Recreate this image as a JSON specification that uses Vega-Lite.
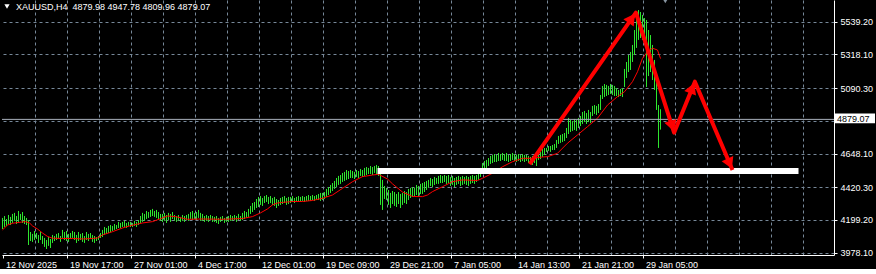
{
"$schema":"https://vega.github.io/schema/vega-lite/v6.json",
"width":832,"height":255,"padding":0,"background":"#000000",
"config":{"view":{"stroke":null},"font":"Liberation Sans",
"axis":{"grid":true,"gridColor":"#778899","gridDash":[3,3],"gridWidth":1,"domainColor":"#ffffff","domainWidth":1,"tickColor":"#ffffff","tickSize":3,"tickWidth":1,"labelColor":"#ffffff","labelFont":"Liberation Sans","labelFontSize":9,"labelOverlap":false,"labelFlush":false,"labelBound":false},
"axisX":{"labelAlign":"left","labelBaseline":"top","labelPadding":2,"labelOffset":3},
"axisY":{"labelAlign":"left","labelBaseline":"middle","labelPadding":3}},
"resolve":{"axis":{"x":"shared","y":"shared"},"scale":{"x":"shared","y":"shared"}},
"datasets":{
"bars":[{"i":0,"h":4213,"l":4138},{"i":1,"h":4226,"l":4152},{"i":2,"h":4206,"l":4159},{"i":3,"h":4233,"l":4172},{"i":4,"h":4220,"l":4165},{"i":5,"h":4240,"l":4179},{"i":6,"h":4247,"l":4193},{"i":7,"h":4226,"l":4172},{"i":8,"h":4260,"l":4186},{"i":9,"h":4240,"l":4199},{"i":10,"h":4253,"l":4179},{"i":11,"h":4226,"l":4172},{"i":12,"h":4213,"l":4165},{"i":13,"h":4199,"l":4030},{"i":14,"h":4118,"l":4057},{"i":15,"h":4105,"l":4051},{"i":16,"h":4125,"l":4064},{"i":17,"h":4111,"l":4071},{"i":18,"h":4098,"l":4044},{"i":19,"h":4118,"l":4064},{"i":20,"h":4091,"l":4037},{"i":21,"h":4078,"l":4017},{"i":22,"h":4064,"l":4003},{"i":23,"h":4084,"l":4024},{"i":24,"h":4071,"l":4010},{"i":25,"h":4098,"l":4044},{"i":26,"h":4091,"l":4057},{"i":27,"h":4105,"l":4064},{"i":28,"h":4111,"l":4071},{"i":29,"h":4091,"l":4051},{"i":30,"h":4132,"l":4078},{"i":31,"h":4118,"l":4064},{"i":32,"h":4125,"l":4057},{"i":33,"h":4105,"l":4051},{"i":34,"h":4111,"l":4071},{"i":35,"h":4125,"l":4078},{"i":36,"h":4118,"l":4064},{"i":37,"h":4098,"l":4044},{"i":38,"h":4118,"l":4057},{"i":39,"h":4105,"l":4064},{"i":40,"h":4111,"l":4051},{"i":41,"h":4091,"l":4044},{"i":42,"h":4118,"l":4064},{"i":43,"h":4105,"l":4057},{"i":44,"h":4111,"l":4071},{"i":45,"h":4098,"l":4051},{"i":46,"h":4091,"l":4044},{"i":47,"h":4084,"l":4057},{"i":48,"h":4091,"l":4064},{"i":49,"h":4111,"l":4078},{"i":50,"h":4132,"l":4084},{"i":51,"h":4152,"l":4098},{"i":52,"h":4145,"l":4105},{"i":53,"h":4159,"l":4111},{"i":54,"h":4165,"l":4118},{"i":55,"h":4159,"l":4125},{"i":56,"h":4172,"l":4132},{"i":57,"h":4165,"l":4138},{"i":58,"h":4186,"l":4145},{"i":59,"h":4179,"l":4145},{"i":60,"h":4186,"l":4152},{"i":61,"h":4193,"l":4152},{"i":62,"h":4179,"l":4145},{"i":63,"h":4186,"l":4159},{"i":64,"h":4186,"l":4152},{"i":65,"h":4179,"l":4152},{"i":66,"h":4193,"l":4159},{"i":67,"h":4186,"l":4152},{"i":68,"h":4199,"l":4165},{"i":69,"h":4226,"l":4179},{"i":70,"h":4247,"l":4186},{"i":71,"h":4240,"l":4193},{"i":72,"h":4260,"l":4206},{"i":73,"h":4253,"l":4213},{"i":74,"h":4267,"l":4220},{"i":75,"h":4274,"l":4226},{"i":76,"h":4260,"l":4220},{"i":77,"h":4267,"l":4213},{"i":78,"h":4253,"l":4206},{"i":79,"h":4240,"l":4193},{"i":80,"h":4240,"l":4186},{"i":81,"h":4247,"l":4193},{"i":82,"h":4233,"l":4179},{"i":83,"h":4247,"l":4199},{"i":84,"h":4240,"l":4186},{"i":85,"h":4253,"l":4206},{"i":86,"h":4233,"l":4193},{"i":87,"h":4226,"l":4186},{"i":88,"h":4233,"l":4193},{"i":89,"h":4220,"l":4186},{"i":90,"h":4233,"l":4193},{"i":91,"h":4226,"l":4186},{"i":92,"h":4233,"l":4199},{"i":93,"h":4240,"l":4193},{"i":94,"h":4253,"l":4206},{"i":95,"h":4260,"l":4199},{"i":96,"h":4247,"l":4206},{"i":97,"h":4253,"l":4199},{"i":98,"h":4267,"l":4213},{"i":99,"h":4247,"l":4193},{"i":100,"h":4240,"l":4193},{"i":101,"h":4226,"l":4186},{"i":102,"h":4233,"l":4193},{"i":103,"h":4226,"l":4186},{"i":104,"h":4233,"l":4199},{"i":105,"h":4226,"l":4186},{"i":106,"h":4220,"l":4186},{"i":107,"h":4226,"l":4179},{"i":108,"h":4213,"l":4172},{"i":109,"h":4220,"l":4186},{"i":110,"h":4226,"l":4193},{"i":111,"h":4213,"l":4179},{"i":112,"h":4220,"l":4186},{"i":113,"h":4226,"l":4186},{"i":114,"h":4233,"l":4193},{"i":115,"h":4226,"l":4193},{"i":116,"h":4233,"l":4199},{"i":117,"h":4226,"l":4186},{"i":118,"h":4240,"l":4199},{"i":119,"h":4226,"l":4193},{"i":120,"h":4247,"l":4199},{"i":121,"h":4260,"l":4206},{"i":122,"h":4253,"l":4213},{"i":123,"h":4274,"l":4220},{"i":124,"h":4294,"l":4240},{"i":125,"h":4314,"l":4253},{"i":126,"h":4321,"l":4267},{"i":127,"h":4341,"l":4280},{"i":128,"h":4355,"l":4287},{"i":129,"h":4361,"l":4301},{"i":130,"h":4348,"l":4294},{"i":131,"h":4361,"l":4314},{"i":132,"h":4368,"l":4321},{"i":133,"h":4355,"l":4307},{"i":134,"h":4361,"l":4314},{"i":135,"h":4348,"l":4301},{"i":136,"h":4355,"l":4294},{"i":137,"h":4341,"l":4280},{"i":138,"h":4334,"l":4294},{"i":139,"h":4348,"l":4301},{"i":140,"h":4355,"l":4307},{"i":141,"h":4361,"l":4314},{"i":142,"h":4348,"l":4301},{"i":143,"h":4355,"l":4307},{"i":144,"h":4355,"l":4314},{"i":145,"h":4361,"l":4321},{"i":146,"h":4348,"l":4314},{"i":147,"h":4355,"l":4321},{"i":148,"h":4361,"l":4321},{"i":149,"h":4355,"l":4321},{"i":150,"h":4361,"l":4328},{"i":151,"h":4355,"l":4321},{"i":152,"h":4361,"l":4328},{"i":153,"h":4368,"l":4328},{"i":154,"h":4361,"l":4328},{"i":155,"h":4368,"l":4334},{"i":156,"h":4361,"l":4328},{"i":157,"h":4368,"l":4334},{"i":158,"h":4375,"l":4334},{"i":159,"h":4382,"l":4328},{"i":160,"h":4382,"l":4334},{"i":161,"h":4388,"l":4341},{"i":162,"h":4409,"l":4355},{"i":163,"h":4422,"l":4368},{"i":164,"h":4436,"l":4382},{"i":165,"h":4449,"l":4395},{"i":166,"h":4463,"l":4409},{"i":167,"h":4483,"l":4422},{"i":168,"h":4497,"l":4436},{"i":169,"h":4503,"l":4443},{"i":170,"h":4517,"l":4456},{"i":171,"h":4524,"l":4463},{"i":172,"h":4537,"l":4470},{"i":173,"h":4530,"l":4476},{"i":174,"h":4537,"l":4483},{"i":175,"h":4530,"l":4483},{"i":176,"h":4524,"l":4476},{"i":177,"h":4537,"l":4490},{"i":178,"h":4530,"l":4483},{"i":179,"h":4544,"l":4497},{"i":180,"h":4537,"l":4490},{"i":181,"h":4551,"l":4497},{"i":182,"h":4557,"l":4503},{"i":183,"h":4551,"l":4510},{"i":184,"h":4564,"l":4510},{"i":185,"h":4557,"l":4503},{"i":186,"h":4564,"l":4517},{"i":187,"h":4571,"l":4510},{"i":188,"h":4564,"l":4497},{"i":189,"h":4510,"l":4301},{"i":190,"h":4470,"l":4267},{"i":191,"h":4429,"l":4341},{"i":192,"h":4416,"l":4334},{"i":193,"h":4402,"l":4301},{"i":194,"h":4382,"l":4280},{"i":195,"h":4395,"l":4307},{"i":196,"h":4388,"l":4294},{"i":197,"h":4375,"l":4287},{"i":198,"h":4388,"l":4307},{"i":199,"h":4375,"l":4280},{"i":200,"h":4382,"l":4301},{"i":201,"h":4395,"l":4314},{"i":202,"h":4388,"l":4307},{"i":203,"h":4409,"l":4334},{"i":204,"h":4416,"l":4348},{"i":205,"h":4422,"l":4355},{"i":206,"h":4416,"l":4361},{"i":207,"h":4436,"l":4368},{"i":208,"h":4429,"l":4361},{"i":209,"h":4443,"l":4375},{"i":210,"h":4449,"l":4375},{"i":211,"h":4456,"l":4388},{"i":212,"h":4463,"l":4402},{"i":213,"h":4470,"l":4416},{"i":214,"h":4483,"l":4429},{"i":215,"h":4476,"l":4422},{"i":216,"h":4490,"l":4436},{"i":217,"h":4483,"l":4443},{"i":218,"h":4497,"l":4443},{"i":219,"h":4503,"l":4449},{"i":220,"h":4497,"l":4449},{"i":221,"h":4503,"l":4456},{"i":222,"h":4497,"l":4443},{"i":223,"h":4503,"l":4449},{"i":224,"h":4490,"l":4429},{"i":225,"h":4497,"l":4436},{"i":226,"h":4483,"l":4422},{"i":227,"h":4490,"l":4436},{"i":228,"h":4497,"l":4443},{"i":229,"h":4490,"l":4429},{"i":230,"h":4497,"l":4436},{"i":231,"h":4490,"l":4443},{"i":232,"h":4497,"l":4436},{"i":233,"h":4490,"l":4429},{"i":234,"h":4497,"l":4443},{"i":235,"h":4503,"l":4449},{"i":236,"h":4497,"l":4443},{"i":237,"h":4503,"l":4456},{"i":238,"h":4524,"l":4470},{"i":239,"h":4551,"l":4490},{"i":240,"h":4584,"l":4530},{"i":241,"h":4598,"l":4537},{"i":242,"h":4605,"l":4551},{"i":243,"h":4618,"l":4564},{"i":244,"h":4632,"l":4578},{"i":245,"h":4639,"l":4584},{"i":246,"h":4645,"l":4591},{"i":247,"h":4639,"l":4591},{"i":248,"h":4652,"l":4598},{"i":249,"h":4645,"l":4598},{"i":250,"h":4652,"l":4605},{"i":251,"h":4645,"l":4598},{"i":252,"h":4652,"l":4598},{"i":253,"h":4639,"l":4591},{"i":254,"h":4645,"l":4598},{"i":255,"h":4652,"l":4605},{"i":256,"h":4645,"l":4598},{"i":257,"h":4639,"l":4591},{"i":258,"h":4645,"l":4598},{"i":259,"h":4639,"l":4591},{"i":260,"h":4645,"l":4598},{"i":261,"h":4639,"l":4591},{"i":262,"h":4639,"l":4598},{"i":263,"h":4632,"l":4584},{"i":264,"h":4625,"l":4578},{"i":265,"h":4632,"l":4571},{"i":266,"h":4639,"l":4584},{"i":267,"h":4625,"l":4564},{"i":268,"h":4652,"l":4605},{"i":269,"h":4659,"l":4611},{"i":270,"h":4679,"l":4625},{"i":271,"h":4686,"l":4639},{"i":272,"h":4686,"l":4659},{"i":273,"h":4699,"l":4666},{"i":274,"h":4699,"l":4659},{"i":275,"h":4706,"l":4672},{"i":276,"h":4713,"l":4672},{"i":277,"h":4740,"l":4686},{"i":278,"h":4767,"l":4713},{"i":279,"h":4774,"l":4720},{"i":280,"h":4780,"l":4726},{"i":281,"h":4787,"l":4733},{"i":282,"h":4821,"l":4753},{"i":283,"h":4889,"l":4780},{"i":284,"h":4875,"l":4794},{"i":285,"h":4868,"l":4801},{"i":286,"h":4882,"l":4807},{"i":287,"h":4875,"l":4801},{"i":288,"h":4889,"l":4821},{"i":289,"h":4902,"l":4834},{"i":290,"h":4929,"l":4848},{"i":291,"h":4936,"l":4861},{"i":292,"h":4922,"l":4848},{"i":293,"h":4943,"l":4861},{"i":294,"h":4929,"l":4855},{"i":295,"h":4970,"l":4902},{"i":296,"h":4976,"l":4916},{"i":297,"h":4970,"l":4909},{"i":298,"h":4983,"l":4922},{"i":299,"h":5044,"l":4943},{"i":300,"h":5105,"l":5017},{"i":301,"h":5118,"l":5030},{"i":302,"h":5112,"l":5037},{"i":303,"h":5105,"l":5044},{"i":304,"h":5118,"l":5051},{"i":305,"h":5112,"l":5044},{"i":306,"h":5105,"l":5037},{"i":307,"h":5091,"l":5037},{"i":308,"h":5078,"l":5030},{"i":309,"h":5085,"l":5037},{"i":310,"h":5091,"l":5030},{"i":311,"h":5220,"l":5098},{"i":312,"h":5267,"l":5159},{"i":313,"h":5314,"l":5199},{"i":314,"h":5335,"l":5213},{"i":315,"h":5382,"l":5267},{"i":316,"h":5483,"l":5314},{"i":317,"h":5605,"l":5362},{"i":318,"h":5618,"l":5416},{"i":319,"h":5605,"l":5429},{"i":320,"h":5585,"l":5416},{"i":321,"h":5564,"l":5402},{"i":322,"h":5551,"l":5098},{"i":323,"h":5483,"l":5172},{"i":324,"h":5449,"l":5199},{"i":325,"h":5382,"l":5145},{"i":326,"h":5281,"l":5078},{"i":327,"h":5145,"l":4943},{"i":328,"h":4976,"l":4686},{"i":329,"h":4947.78,"l":4809.96}],
"ma":[{"i":0,"m":4132},{"i":2.5,"m":4165},{"i":5,"m":4177},{"i":10,"m":4186},{"i":11.5,"m":4188},{"i":13.5,"m":4179},{"i":15,"m":4159},{"i":17.5,"m":4138},{"i":20,"m":4111},{"i":22.5,"m":4088},{"i":25,"m":4076},{"i":30,"m":4074},{"i":35,"m":4074},{"i":40,"m":4071},{"i":45,"m":4074},{"i":47.5,"m":4078},{"i":50,"m":4098},{"i":55,"m":4120},{"i":60,"m":4145},{"i":63.5,"m":4159},{"i":70,"m":4179},{"i":75,"m":4188},{"i":80,"m":4213},{"i":82.5,"m":4226},{"i":86.5,"m":4222},{"i":92.5,"m":4204},{"i":100,"m":4206},{"i":110,"m":4204},{"i":120,"m":4209},{"i":125,"m":4222},{"i":129,"m":4247},{"i":132.5,"m":4274},{"i":135,"m":4301},{"i":137.5,"m":4314},{"i":140,"m":4318},{"i":145,"m":4324},{"i":150,"m":4324},{"i":155,"m":4331},{"i":160,"m":4346},{"i":165,"m":4368},{"i":170,"m":4413},{"i":175,"m":4458},{"i":180,"m":4492},{"i":185,"m":4503},{"i":188,"m":4508},{"i":192.5,"m":4476},{"i":195,"m":4443},{"i":200,"m":4388},{"i":205,"m":4358},{"i":210,"m":4357},{"i":212.5,"m":4368},{"i":215,"m":4391},{"i":220,"m":4424},{"i":225,"m":4458},{"i":230,"m":4470},{"i":237.5,"m":4466},{"i":240,"m":4481},{"i":245,"m":4515},{"i":250,"m":4559},{"i":255,"m":4593},{"i":260,"m":4616},{"i":265,"m":4616},{"i":270,"m":4625},{"i":272.5,"m":4627},{"i":277.5,"m":4650},{"i":282.5,"m":4718},{"i":287.5,"m":4774},{"i":292.5,"m":4830},{"i":297.5,"m":4887},{"i":302.5,"m":4976},{"i":307.5,"m":5033},{"i":311,"m":5066},{"i":315,"m":5134},{"i":317.5,"m":5201},{"i":320,"m":5292},{"i":322.5,"m":5337},{"i":325,"m":5360},{"i":327.5,"m":5348},{"i":329,"m":5290}],
"arrow":[{"k":0,"i":263.6,"p":4576},{"k":1,"i":316.7,"p":5600},{"k":2,"i":335.8,"p":4789},{"k":3,"i":346.2,"p":5134},{"k":4,"i":365,"p":4537}],
"heads":[{"i":314.6,"p":5562,"heading":35},{"i":334.8,"p":4834,"heading":162},{"i":344.85,"p":5090,"heading":22},{"i":363.6,"p":4580,"heading":156}],
"notes":[{"kind":"title","i":6.75,"p":5639,"t":"XAUUSD,H4\u00a0 4879.98 4947.78 4809.96 4879.07"}],
"marks":[{"kind":"menu","i":2.25,"p":5642},{"kind":"shift","i":331.4,"p":5699}],
"tag":[{"from":416.25,"to":436.25,"low":4853,"high":4918,"ti":417.25,"price":4879.07,"label":"4879.07"}]
},
"layer":[
{"data":{"name":"bars"},"mark":{"type":"rule","color":"#2ee62e","strokeWidth":1},
"encoding":{
"x":{"field":"i","type":"quantitative","scale":{"domain":[-0.25,415.75],"nice":false,"zero":false},
"axis":{"title":null,"values":[0,16,32,48,64,80,96,112,128,144,160,176,192,208,224,240,256,272,288,304,320,336,352,368,384,400],"tickCount":1000,
"grid":true,"gridDash":[3,3],"labelOverlap":false,
"gridOpacity":{"condition":{"test":"datum.value > 0","value":1},"value":0},
"tickOpacity":{"condition":{"test":"datum.value % 32 == 0 && datum.value <= 320","value":1},"value":0},
"labelExpr":"datum.value == 0 ? '12 Nov 2025' : datum.value == 32 ? '19 Nov 17:00' : datum.value == 64 ? '27 Nov 01:00' : datum.value == 96 ? '4 Dec 17:00' : datum.value == 128 ? '12 Dec 01:00' : datum.value == 160 ? '19 Dec 09:00' : datum.value == 192 ? '29 Dec 21:00' : datum.value == 224 ? '7 Jan 05:00' : datum.value == 256 ? '14 Jan 13:00' : datum.value == 288 ? '21 Jan 21:00' : datum.value == 320 ? '29 Jan 05:00' : ''"}},
"y":{"field":"l","type":"quantitative","scale":{"domain":[3962.5,5685.9],"nice":false,"zero":false},
"axis":{"orient":"right","title":null,"values":[3978.1,4199.2,4420.3,4648.1,4869.2,5090.3,5318.1,5539.2],"tickCount":1000,
"grid":true,"gridDash":[3,3],"labelOverlap":false,
"labelExpr":"datum.value == 4869.2 ? '' : format(datum.value, '.2f')"}},
"y2":{"field":"h"}}},
{"data":{"name":"ma"},"mark":{"type":"line","color":"#ff0000","strokeWidth":1},
"encoding":{"x":{"field":"i","type":"quantitative"},"y":{"field":"m","type":"quantitative"}}},
{"data":{"values":[{"price":4879.07}]},"mark":{"type":"rule","color":"#a8b0bb","strokeWidth":1},
"encoding":{"y":{"field":"price","type":"quantitative"}}},
{"data":{"values":[{"start":187.5,"end":398,"low":4510,"high":4550}]},"mark":{"type":"rect","color":"#ffffff"},
"encoding":{"x":{"field":"start","type":"quantitative"},"x2":{"field":"end"},"y":{"field":"low","type":"quantitative"},"y2":{"field":"high"}}},
{"data":{"name":"arrow"},"mark":{"type":"line","color":"#ff0000","strokeWidth":4,"strokeJoin":"round"},
"encoding":{"x":{"field":"i","type":"quantitative"},"y":{"field":"p","type":"quantitative"},"order":{"field":"k"}}},
{"data":{"name":"heads"},"mark":{"type":"point","shape":"triangle-up","filled":true,"color":"#ff0000","opacity":1,"size":160},
"encoding":{"x":{"field":"i","type":"quantitative"},"y":{"field":"p","type":"quantitative"},"angle":{"field":"heading","type":"quantitative","scale":null}}},
{"data":{"name":"notes"},"mark":{"type":"text","color":"#ffffff","font":"Liberation Sans","fontSize":9,"align":"left","baseline":"middle"},
"encoding":{"x":{"field":"i","type":"quantitative"},"y":{"field":"p","type":"quantitative"},"text":{"field":"t"}}},
{"data":{"name":"marks"},"mark":{"type":"point","shape":"triangle-down","filled":true,"opacity":1,"clip":true},
"encoding":{"x":{"field":"i","type":"quantitative"},"y":{"field":"p","type":"quantitative"},
"color":{"field":"kind","type":"nominal","scale":{"domain":["menu","shift"],"range":["#ffffff","#8794a1"]},"legend":null},
"size":{"field":"kind","type":"nominal","scale":{"domain":["menu","shift"],"range":[28,150]},"legend":null}}},
{"data":{"name":"tag"},"mark":{"type":"rect","color":"#ffffff","clip":false},
"encoding":{"x":{"field":"from","type":"quantitative"},"x2":{"field":"to"},"y":{"field":"low","type":"quantitative"},"y2":{"field":"high"}}},
{"data":{"name":"tag"},"mark":{"type":"text","color":"#000000","font":"Liberation Sans","fontSize":9,"align":"left","baseline":"middle","clip":false},
"encoding":{"x":{"field":"ti","type":"quantitative"},"y":{"field":"price","type":"quantitative"},"text":{"field":"label"}}}
]
}
